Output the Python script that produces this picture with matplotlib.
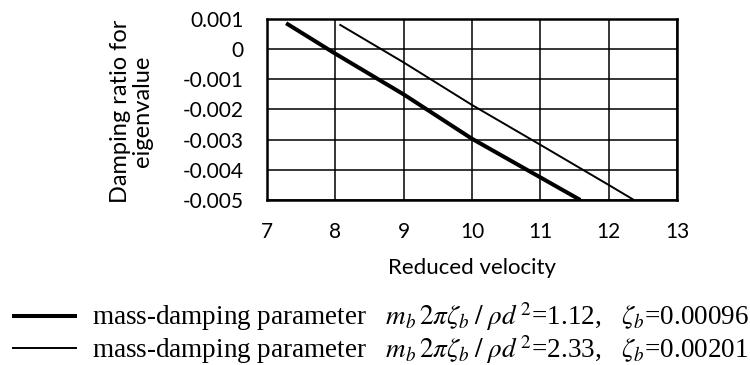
import matplotlib
matplotlib.use("Agg")
import matplotlib.pyplot as plt

# reduced velocity vs damping ratio
vel_low = [7.28, 8.0, 9.0, 10.0, 11.0, 11.585]
damp_low = [0.00086, -0.00015, -0.0015, -0.00297, -0.00425, -0.0050]

vel_high = [8.06, 9.0, 10.0, 11.0, 12.0, 12.37]
damp_high = [0.00082, -0.00044, -0.00185, -0.00317, -0.0045, -0.0050]

labels = [
    r"mass-damping parameter   $m_b\,2\pi\zeta_b\;/\;\rho d^{\,2}$=1.12,   $\zeta_b$=0.00096",
    r"mass-damping parameter   $m_b\,2\pi\zeta_b\;/\;\rho d^{\,2}$=2.33,   $\zeta_b$=0.00201",
]

xticks = [7, 8, 9, 10, 11, 12, 13]
yticks = [0.001, 0, -0.001, -0.002, -0.003, -0.004, -0.005]
ytick_labels = ["0.001", "0", "-0.001", "-0.002", "-0.003", "-0.004", "-0.005"]

plt.rcParams['font.family'] = ['Lato', 'DejaVu Sans']
plt.rcParams['mathtext.fontset'] = 'stix'

W, H = 750, 365
fig = plt.figure(figsize=(W / 100, H / 100), dpi=100)
ax = fig.add_axes([267 / W, 1 - 200 / H, 410 / W, 181 / H])

l1, = ax.plot(vel_low, damp_low, color='black', lw=2.9, solid_capstyle='butt')
l2, = ax.plot(vel_high, damp_high, color='black', lw=1.4, solid_capstyle='butt')

ax.set_xlim(7, 13)
ax.set_ylim(-0.005, 0.001)
ax.set_xticks(xticks)
ax.set_yticks(yticks)
ax.set_yticklabels(ytick_labels)
ax.grid(True, color='black', lw=1.1)
ax.set_axisbelow(True)
for s in ax.spines.values():
    s.set_linewidth(1.8)
ax.tick_params(length=0, labelsize=15)
ax.tick_params(axis='y', pad=17)
ax.tick_params(axis='x', pad=16)

ax.set_ylabel("Damping ratio for\neigenvalue", fontsize=17, multialignment='center',
              linespacing=1.05)
ax.yaxis.set_label_coords(-0.278, 0.49)
ax.set_xlabel("Reduced velocity", fontsize=16)
ax.xaxis.set_label_coords(0.5, -0.32)

fig.legend([l1, l2], labels, loc='center left', bbox_to_anchor=(12 / W, 1 - 333 / H),
           frameon=False, borderpad=0, borderaxespad=0, handlelength=2.4,
           handletextpad=0.55, labelspacing=0.0,
           prop={'family': 'Liberation Serif', 'size': 19.5})

fig.savefig("out.png", dpi=100)
